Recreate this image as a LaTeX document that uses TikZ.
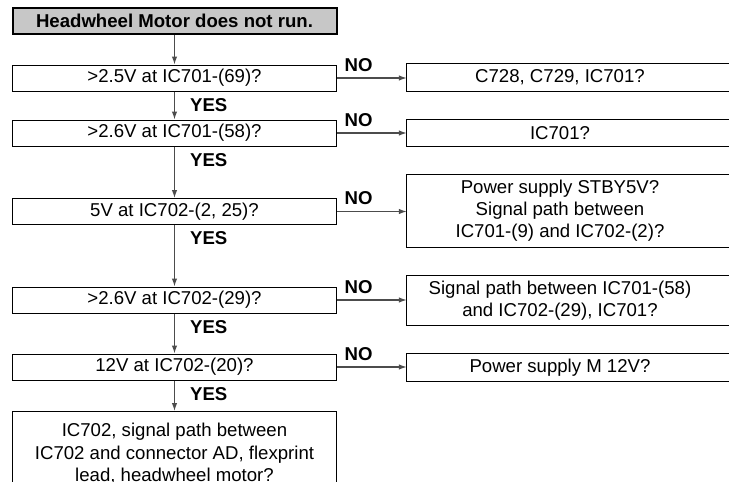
\documentclass[tikz,border=0pt]{standalone}
\usepackage{fontspec}
\setmainfont{Liberation Sans}
\usetikzlibrary{arrows.meta, positioning, calc}

\begin{document}
\begin{tikzpicture}[x=1pt, y=-1pt,
    txt/.style={font=\fontsize{18.6}{22}\selectfont},
    box/.style={txt, draw, line width=1pt, minimum width=324pt, minimum height=26pt, inner ysep=2pt, align=center},
    titlebox/.style={box, fill=black!22, line width=2pt, font=\fontsize{18.6}{22}\selectfont\bfseries},
    result/.style={txt, minimum width=306pt, minimum height=26pt, inner ysep=2pt, align=center},
    arr/.style={-{Latex[length=8pt, width=5.5pt]}, line width=1.2pt, black!70},
    yes/.style={font=\fontsize{18.6}{22}\selectfont\bfseries, text=black, inner sep=0pt, anchor=north west, pos=0, xshift=15pt, yshift=-6pt},
    no/.style={font=\fontsize{18.6}{22}\selectfont\bfseries, text=black, inner sep=0pt, anchor=south west, pos=0, xshift=7pt, yshift=6pt}]
    \useasboundingbox (0,0) rectangle (729,482);
    \clip (0,0) rectangle (729,482);

    % checks
    \node[titlebox] (t) at (174.5,21) {Headwheel Motor does not run.};
    \node[box] (b1) at (174.5,78) {>2.5V at IC701-(69)?};
    \node[box] (b2) at (174.5,133) {>2.6V at IC701-(58)?};
    \node[box] (b3) at (174.5,211.5) {5V at IC702-(2, 25)?};
    \node[box] (b4) at (174.5,300) {>2.6V at IC702-(29)?};
    \node[box] (b5) at (174.5,367) {12V at IC702-(20)?};
    \node[box, anchor=north, minimum height=84pt, font=\fontsize{18.6}{22.5}\selectfont] (b6) at (174.5,411)
        {IC702, signal path between\\IC702 and connector AD, flexprint\\lead, headwheel motor?};

    % causes
    \node[result, minimum height=27pt] (r1) at (560,77.5) {C728, C729, IC701?};
    \node[result] (r2) at (560,133) {IC701?};
    \node[result, minimum height=72pt] (r3) at (560,211)
        {Power supply STBY5V?\\Signal path between\\IC701-(9) and IC702-(2)?};
    \node[result, minimum height=49pt] (r4) at (560,300.5)
        {Signal path between IC701-(58)\\and IC702-(29), IC701?};
    \node[result, minimum height=27pt] (r5) at (560,367.5) {Power supply M 12V?};
    \foreach \n in {r1,r2,r3,r4,r5}
        \draw[line width=1pt] ([xshift=40pt]\n.north east) -- (\n.north west) -- (\n.south west) -- ([xshift=40pt]\n.south east);

    % YES path
    \draw[arr] (t) -- (b1);
    \draw[arr] (b1) -- node[yes] {YES} (b2);
    \draw[arr] (b2) -- node[yes] {YES} (b3);
    \draw[arr] (b3) -- node[yes] {YES} (b4);
    \draw[arr] (b4) -- node[yes] {YES} (b5);
    \draw[arr] (b5) -- node[yes] {YES} (b6);

    % NO branches
    \foreach \i in {1,...,5}
        \draw[arr] (b\i.east) -- node[no] {NO} (b\i.east -| r\i.west);
\end{tikzpicture}
\end{document}
